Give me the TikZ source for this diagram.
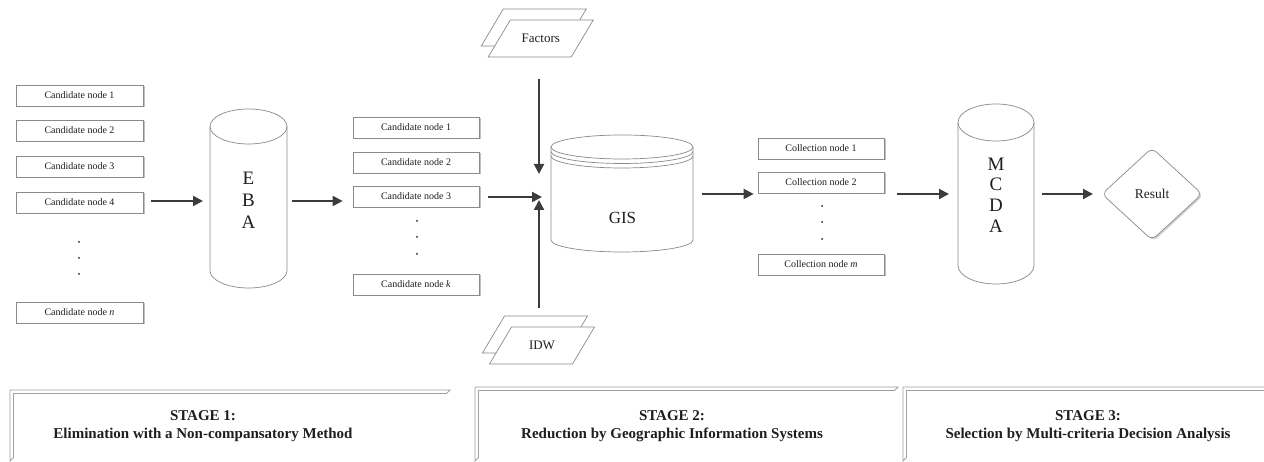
\documentclass[tikz,border=0pt]{standalone}
\usepackage{fontspec}
\setmainfont{Liberation Serif}
\usetikzlibrary{arrows.meta,shadows,calc}
\definecolor{ln}{HTML}{8A8A8A}
\definecolor{txt}{HTML}{1E1E1E}
\definecolor{arrc}{HTML}{3C3C3C}
\definecolor{stg}{HTML}{A0A0A0}
\tikzset{
  nbox/.style={draw=ln, fill=white, line width=0.7pt, minimum width=127, minimum height=21,
    inner sep=0, font=\fontsize{10}{12}\selectfont, text=txt,
    drop shadow={shadow xshift=1.5pt, shadow yshift=-1.5pt, fill=black!25, opacity=1}},
  flow/.style={draw=arrc, line width=2pt, -{Triangle[length=10pt,width=10pt]}},
  cylst/.style={draw=ln, line width=0.7pt, fill=white},
  docst/.style={draw=ln, line width=0.7pt, fill=white},
  stagest/.style={draw=stg, line width=0.8pt},
  hold/.style={inner sep=0, outer sep=0, text=txt},
  dotst/.style={fill=txt},
  stagetext/.style={align=center, text=txt, font=\bfseries\fontsize{15}{18}\selectfont}
}
\newcommand\drawcyl[5]{%
  \draw[cylst] (#1-#4,#2-#5) -- (#1-#4,#3+#5) arc[start angle=180,end angle=360,x radius=#4pt,y radius=#5pt]
     -- (#1+#4,#2-#5) arc[start angle=0,end angle=180,x radius=#4pt,y radius=#5pt] -- cycle;
  \draw[cylst, fill=none] (#1-#4,#2-#5) arc[start angle=180,end angle=360,x radius=#4pt,y radius=#5pt];
}
\newcommand\multidoc[2]{%
  \begin{scope}[shift={(#1,#2)}]
    \draw[docst] (-59.5,-7.5) -- (-37.5,29.5) -- (45.5,29.5) -- (23.5,-7.5) -- cycle;
    \draw[docst] (-52.5,-18.5) -- (-30.5,18.5) -- (52.5,18.5) -- (30.5,-18.5) -- cycle;
  \end{scope}
}
\newcommand\stageframe[3]{%
  \draw[stagest] (#1,1) -- (#1,#3) -- (#2,#3) -- (#2-3.5,#3-3.5) -- (#1+3.5,#3-3.5) -- (#1+3.5,4.5) -- cycle;
}
\begin{document}
\begin{tikzpicture}[x=1pt,y=1pt]
\useasboundingbox (0,0) rectangle (1264,462);

% column 1
\node[nbox] (c1) at (79.5,366.5) {Candidate node 1};
\node[nbox] (c2) at (79.5,331.5) {Candidate node 2};
\node[nbox] (c3) at (79.5,295.5) {Candidate node 3};
\node[nbox] (c4) at (79.5,259.5) {Candidate node 4};
\node[nbox] (cn) at (79.5,149.5) {Candidate node \textit{n}};
\fill[dotst] (79,220) circle[radius=1pt];
\fill[dotst] (79,204) circle[radius=1pt];
\fill[dotst] (79,188) circle[radius=1pt];

% EBA
\drawcyl{248.5}{353}{174}{38.5}{17.5}
\node[hold, minimum width=77, minimum height=179] (eba) at (248.5,263.5) {};
\node[hold, align=center, font=\fontsize{19}{22}\selectfont] (ebat) at (248.5,262) {E\\B\\A};

% column 2
\node[nbox, minimum width=126] (k1) at (416,334.5) {Candidate node 1};
\node[nbox, minimum width=126] (k2) at (416,299.5) {Candidate node 2};
\node[nbox, minimum width=126] (k3) at (416,265.5) {Candidate node 3};
\node[nbox, minimum width=126] (kk) at (416,177.5) {Candidate node \textit{k}};
\fill[dotst] (417,241) circle[radius=1pt];
\fill[dotst] (417,225) circle[radius=1pt];
\fill[dotst] (417,208) circle[radius=1pt];

% Factors / IDW
\multidoc{540.75}{423.5}
\node[hold, minimum width=60, minimum height=37, font=\fontsize{13}{15}\selectfont] (fac) at (540.75,423.5) {Factors};
\multidoc{542}{116.5}
\node[hold, minimum width=60, minimum height=37, font=\fontsize{13}{15}\selectfont] (idw) at (542,116.5) {IDW};
\coordinate (jn) at (539,265);

% GIS
\drawcyl{622}{327}{210}{71}{12}
\draw[cylst, fill=none] (551,310.5) arc[start angle=180,end angle=360,x radius=71pt,y radius=12pt];
\draw[cylst, fill=none] (551,306) arc[start angle=180,end angle=360,x radius=71pt,y radius=12pt];
\node[hold, minimum width=142, minimum height=117] (gis) at (622,268.5) {};
\node[hold, font=\fontsize{17}{20}\selectfont] (gist) at (622.5,244) {GIS};

% column 3
\node[nbox, minimum width=126] (col1) at (821,313.5) {Collection node 1};
\node[nbox, minimum width=126] (col2) at (821,279.5) {Collection node 2};
\node[nbox, minimum width=126] (colm) at (821,197.5) {Collection node \textit{m}};
\fill[dotst] (822,256) circle[radius=1pt];
\fill[dotst] (822,240) circle[radius=1pt];
\fill[dotst] (822,223) circle[radius=1pt];

% MCDA
\drawcyl{996}{358}{178}{38}{18.5}
\node[hold, minimum width=76, minimum height=180] (mcda) at (996,268) {};
\node[hold, align=center, font=\fontsize{19}{20.7}\selectfont] (mcdat) at (996,267) {M\\C\\D\\A};

% Result
\node[hold, minimum width=100, minimum height=92, font=\fontsize{13.5}{16}\selectfont] (res) at (1152,268) {};
\fill[black!18, rounded corners=6pt] ($(res.north)+(1.5,-1.5)$) -- ($(res.east)+(1.5,-1.5)$) -- ($(res.south)+(1.5,-1.5)$) -- ($(res.west)+(1.5,-1.5)$) -- cycle;
\draw[draw=ln, line width=0.7pt, fill=white, rounded corners=6pt] (res.north) -- (res.east) -- (res.south) -- (res.west) -- cycle;
\node[hold, font=\fontsize{13.5}{16}\selectfont] (rest) at (res) {Result};

% arrows
\draw[flow] ($(c4.east)+(8,1.5)$) -- ($(c4.east -| eba.west)+(-7,1.5)$);
\draw[flow] ($(eba.east |- c4.east)+(5,1.5)$) -- ($(k3.west |- c4.east)+(-10,1.5)$);
\draw[flow] ($(k3.east)+(9,-0.5)$) -- ($(jn)+(3,0)$);
\draw[flow] ($(fac.south)+(-1.75,-22)$) -- ($(jn)+(0,23)$);
\draw[flow] ($(idw.north)+(-3,19)$) -- ($(jn)+(0,-3)$);
\draw[flow] ($(gis.east)+(9,-0.5)$) -- ($(col2.west |- gis.east)+(-4,-0.5)$);
\draw[flow] ($(col2.east |- gis.east)+(13,-0.5)$) -- ($(mcda.west |- gis.east)+(-9,-0.5)$);
\draw[flow] ($(mcda.east |- gis.east)+(8,-0.5)$) -- ($(res.west)+(-9,0)$);

% stages
\stageframe{10}{450}{72}
\stageframe{475}{898}{75}
\stageframe{903}{1275}{75}
\node[stagetext] (st1) at (203,36) {STAGE 1:\\Elimination with a Non-compansatory Method};
\node[stagetext] (st2) at (672,36) {STAGE 2:\\Reduction by Geographic Information Systems};
\node[stagetext] (st3) at (1088,36) {STAGE 3:\\Selection by Multi-criteria Decision Analysis};
\end{tikzpicture}
\end{document}
